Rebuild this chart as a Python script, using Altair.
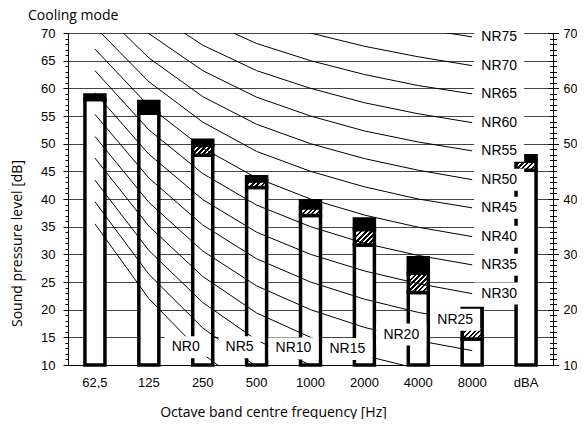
import altair as alt
import pandas as pd

# ---------------- data ----------------
categories = ["62,5", "125", "250", "500", "1000", "2000", "4000", "8000", "dBA"]
white_top = [58.0, 55.5, 47.9, 42.1, 37.0, 31.7, 23.1, 14.7, 45.2]
hatch_top = [58.0, 55.5, 49.7, 43.3, 38.4, 34.5, 26.6, 17.0, 46.8]
bar_top = [58.8, 57.6, 50.6, 44.0, 39.7, 36.4, 29.4, 20.2, 47.8]
bar_base = 10

# NR curves (dB) per octave band, for NR 0, 5, ..., 75
nr_levels = [0, 5, 10, 15, 20, 25, 30, 35, 40, 45, 50, 55, 60, 65, 70, 75]
nr_freqs = ["62,5", "125", "250", "500", "1000", "2000", "4000", "8000"]
nr_63 = [35.5, 39.5, 43.4, 47.4, 51.3, 55.3, 59.2, 63.2, 67.1, 71.1, 75.0, 79.0, 82.9, 86.9, 90.8, 94.8]
nr_125 = [22.0, 26.4, 30.7, 35.1, 39.4, 43.8, 48.1, 52.5, 56.8, 61.2, 65.5, 69.9, 74.2, 78.6, 82.9, 87.3]
nr_250 = [12.0, 16.7, 21.3, 26.0, 30.6, 35.3, 39.9, 44.6, 49.2, 53.9, 58.5, 63.2, 67.8, 72.5, 77.1, 81.8]
nr_500 = [4.8, 9.7, 14.5, 19.4, 24.3, 29.2, 34.0, 38.9, 43.8, 48.6, 53.5, 58.4, 63.2, 68.1, 73.0, 77.9]
nr_1000 = [0.0, 5.0, 10.0, 15.0, 20.0, 25.0, 30.0, 35.0, 40.0, 45.0, 50.0, 55.0, 60.0, 65.0, 70.0, 75.0]
nr_2000 = [-3.5, 1.6, 6.7, 11.7, 16.8, 21.9, 27.0, 32.0, 37.1, 42.2, 47.3, 52.3, 57.4, 62.5, 67.6, 72.6]
nr_4000 = [-6.1, -1.0, 4.2, 9.3, 14.4, 19.5, 24.7, 29.8, 34.9, 40.0, 45.2, 50.3, 55.4, 60.5, 65.7, 70.8]
nr_8000 = [-8.0, -2.9, 2.3, 7.5, 12.6, 17.8, 22.9, 28.1, 33.2, 38.4, 43.5, 48.7, 53.8, 59.0, 64.1, 69.3]

# labels of the lower NR curves (sit just left of these bands)
low_label_levels = [0, 5, 10, 15, 20, 25]
low_label_cats = ["250", "500", "1000", "2000", "4000", "8000"]
low_label_db = [13.2, 13.2, 13.0, 12.9, 15.5, 18.2]

y_major = [10, 15, 20, 25, 30, 35, 40, 45, 50, 55, 60, 65, 70]
y_right = [10, 20, 30, 40, 50, 60, 70]
y_minor = list(range(10, 71))

# ---------------- layout / style ----------------
W, H = 485, 332
BAR_W = 20
STROKE = 3.5
TICK_FONT = "Liberation Sans, Arial, sans-serif"
TITLE_FONT = "Open Sans"

bars = pd.DataFrame({"cat": categories, "base": bar_base, "white": white_top,
                     "hatch": hatch_top, "top": bar_top})

nr_cols = [nr_63, nr_125, nr_250, nr_500, nr_1000, nr_2000, nr_4000, nr_8000]
nr_rows = []
for j, lev in enumerate(nr_levels):
    for i, col in enumerate(nr_cols):
        nr_rows.append({"nr": lev, "cat": nr_freqs[i], "idx": i, "db": col[j]})
nr_df = pd.DataFrame(nr_rows)


def box_fields(label):
    bw = 50 if len(label) >= 4 else 42
    bh = 22
    r = bh / bw
    return f"M-1,{-r:.4f}H1V{r:.4f}H-1Z", bw * bw


right_rows = []
for j, lev in enumerate(nr_levels):
    if lev >= 30:
        lab = f"NR{lev}"
        shp, sz = box_fields(lab)
        right_rows.append({"label": lab, "cat": "8000", "db": nr_8000[j], "shape": shp, "bsize": sz})
right_df = pd.DataFrame(right_rows)

low_rows = []
for lev, c, d in zip(low_label_levels, low_label_cats, low_label_db):
    lab = f"NR{lev}"
    shp, sz = box_fields(lab)
    low_rows.append({"label": lab, "cat": c, "db": d, "shape": shp, "bsize": sz})
low_df = pd.DataFrame(low_rows)

y_scale = alt.Scale(domain=[10, 70], nice=False, zero=False)

x_axis = alt.Axis(title="Octave band centre frequency [Hz]", ticks=False, domainColor="black",
                  labelFont=TICK_FONT, labelFontSize=13, labelColor="black", labelAngle=0,
                  labelPadding=11, titleFont=TITLE_FONT, titleFontSize=14, titleFontWeight="normal",
                  titleColor="black", titleX=205, titleY=51, titleAlign="center",
                  titleBaseline="alphabetic", grid=False)
x_enc = alt.X("cat:N", sort=categories,
              scale=alt.Scale(type="band", domain=categories, paddingInner=0, paddingOuter=0),
              axis=x_axis)

# white part of bars
white_layer = alt.Chart(bars).mark_bar(fill="white", stroke="black", strokeWidth=STROKE, size=BAR_W).encode(
    x=x_enc, y=alt.Y("base:Q", scale=y_scale, axis=None), y2="white:Q")

# hatched parts (diagonal stripes built as hard-stop gradients)
px_per_db = H / 60.0


def hatch_gradient(h_px):
    r = h_px / BAR_W
    a = (1 + r) / (1 + r * r)
    b = a * r
    n = max(2, int(round((BAR_W + h_px) / 5.0)))
    stops = []
    for k in range(n):
        stops += [alt.GradientStop(color="white", offset=k / n),
                  alt.GradientStop(color="white", offset=(k + 0.55) / n),
                  alt.GradientStop(color="black", offset=(k + 0.55) / n),
                  alt.GradientStop(color="black", offset=(k + 1) / n)]
    return alt.LinearGradient(gradient="linear", stops=stops, x1=0, y1=0, x2=a, y2=b)


hatch_layers = []
for c, wt, ht in zip(categories, white_top, hatch_top):
    if ht - wt <= 0:
        continue
    grad = hatch_gradient((ht - wt) * px_per_db)
    hatch_layers.append(
        alt.Chart(bars[bars["cat"] == c]).mark_bar(fill=grad, stroke="black", strokeWidth=STROKE, size=BAR_W).encode(
            x=x_enc, y=alt.Y("white:Q", scale=y_scale, axis=None), y2="hatch:Q"))

black_layer = alt.Chart(bars).mark_bar(fill="black", stroke="black", strokeWidth=STROKE, size=BAR_W).encode(
    x=x_enc, y=alt.Y("hatch:Q", scale=y_scale, axis=None), y2="top:Q")

curves = alt.Chart(nr_df).mark_line(color="black", strokeWidth=1, clip=True).encode(
    x=x_enc, y=alt.Y("db:Q", scale=y_scale, axis=None), detail="nr:N", order="idx:Q")

right_box = alt.Chart(right_df).mark_point(filled=True, fill="white", opacity=1, strokeWidth=0, xOffset=27).encode(
    x=x_enc, y=alt.Y("db:Q", scale=y_scale, axis=None),
    shape=alt.Shape("shape:N", scale=None), size=alt.Size("bsize:Q", scale=None))
right_txt = alt.Chart(right_df).mark_text(font=TICK_FONT, fontSize=14, color="black", align="center",
                                          baseline="middle", dx=27).encode(
    x=x_enc, y=alt.Y("db:Q", scale=y_scale, axis=None), text="label:N")

low_box = alt.Chart(low_df).mark_point(filled=True, fill="white", opacity=1, strokeWidth=0, xOffset=-17).encode(
    x=x_enc, y=alt.Y("db:Q", scale=y_scale, axis=None),
    shape=alt.Shape("shape:N", scale=None), size=alt.Size("bsize:Q", scale=None))
low_txt = alt.Chart(low_df).mark_text(font=TICK_FONT, fontSize=14, color="black", align="center",
                                      baseline="middle", dx=-17).encode(
    x=x_enc, y=alt.Y("db:Q", scale=y_scale, axis=None), text="label:N")

# axes-only layers
axis_df = pd.DataFrame({"v": [10.0]})


def axis_layer(ax):
    return alt.Chart(axis_df).mark_point(opacity=0).encode(y=alt.Y("v:Q", scale=y_scale, axis=ax))


ax_left_major = axis_layer(alt.Axis(orient="left", values=y_major, tickSize=5, tickColor="black",
                                    domainColor="black", labelFont=TICK_FONT, labelFontSize=13,
                                    labelColor="black", labelPadding=8, grid=True, gridColor="#444",
                                    gridWidth=1, title="Sound pressure level [dB]", titleFont=TITLE_FONT,
                                    titleFontSize=14, titleFontWeight="normal", titleColor="black",
                                    titleAngle=270, titleX=-47, titleY=210, titleAlign="center",
                                    titleBaseline="alphabetic"))
ax_left_minor = axis_layer(alt.Axis(orient="left", values=y_minor, tickSize=3, tickColor="black",
                                    labels=False, domain=False, grid=False, title=None))
ax_right_lab = axis_layer(alt.Axis(orient="right", values=y_right, ticks=False, tickSize=0,
                                   domainColor="black", labelFont=TICK_FONT, labelFontSize=12.5,
                                   labelColor="black", labelPadding=10, grid=False, title=None))
ax_right_minor = axis_layer(alt.Axis(orient="right", values=y_minor, offset=-3.5, tickSize=7,
                                     tickColor="black", labels=False, domain=False, grid=False, title=None))
ax_right_major = axis_layer(alt.Axis(orient="right", values=y_right, offset=-5.5, tickSize=11,
                                     tickColor="black", labels=False, domain=False, grid=False, title=None))

chart = alt.layer(
    white_layer, *hatch_layers, black_layer, curves, right_box, right_txt, low_box, low_txt,
    ax_left_major, ax_left_minor, ax_right_lab, ax_right_minor, ax_right_major
).resolve_axis(y="independent").properties(
    width=W, height=H,
    title=alt.TitleParams("Cooling mode", anchor="start", frame="group", dx=-40, dy=16, offset=8,
                          font=TITLE_FONT, fontSize=14, fontWeight="normal", color="black",
                          baseline="alphabetic"),
    autosize=alt.AutoSizeParams(type="none"),
    padding={"left": 60, "top": 25, "right": 24, "bottom": 54},
).configure_view(stroke=None).configure(background="white")

chart.save("out.html", embed_options={"renderer": "svg", "actions": False})
